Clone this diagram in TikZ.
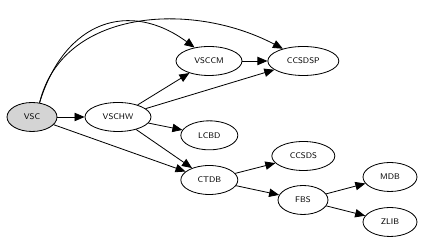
\documentclass[tikz,border=0pt]{standalone}
\usepackage{tikz}
\usetikzlibrary{arrows.meta,shapes.geometric}

\begin{document}
\begin{tikzpicture}[font=\sffamily\fontsize{7}{8}\selectfont,
  e/.style={draw, ellipse, line width=0.7pt, inner sep=0pt, minimum height=8.7mm},
  g/.style={e, fill=black!17},
  a/.style={-{Triangle[length=3mm,width=2.5mm]}, line width=0.7pt}]
 \useasboundingbox (0,0) rectangle (12.63,7.23);
 % left part
 \node[g, minimum width=15mm] (vsc) at (0.96,3.72) {VSC};
 \node[e, minimum width=19.8mm] (vschw) at (3.54,3.72) {VSCHW};
 \node[e, minimum width=19.8mm] (vsccm) at (6.27,5.40) {VSCCM};
 \node[e, minimum width=21.3mm] (ccsdsp) at (9.10,5.40) {CCSDSP};
 \node[e, minimum width=17.1mm] (lcbd) at (6.28,3.17) {LCBD};
 \node[e, minimum width=17.1mm] (ctdb) at (6.28,1.83) {CTDB};
 % right part
 \node[e, minimum width=18.9mm] (ccsds) at (9.10,2.55) {CCSDS};
 \node[e, minimum width=15mm] (fbs) at (9.09,1.23) {FBS};
 \node[e, minimum width=16.2mm] (mdb) at (11.70,1.92) {MDB};
 \node[e, minimum width=16.2mm] (zlib) at (11.70,0.57) {ZLIB};
 \draw[a] (vsc)--(vschw); \draw[a] (vsc)--(ctdb);
 \draw[a] (vsc.62) .. controls (1.95,6.63) and (3.9,7.23) .. (vsccm.137);
 \draw[a] (vsc.62) .. controls (1.86,6.93) and (5.7,7.23) .. (ccsdsp.149);
 \draw[a] (vschw)--(vsccm); \draw[a] (vschw)--(ccsdsp);
 \draw[a] (vschw)--(lcbd); \draw[a] (vschw)--(ctdb);
 \draw[a] (vsccm)--(ccsdsp);
 \draw[a] (ctdb)--(ccsds); \draw[a] (ctdb)--(fbs);
 \draw[a] (fbs)--(mdb); \draw[a] (fbs)--(zlib);
\end{tikzpicture}
\end{document}
